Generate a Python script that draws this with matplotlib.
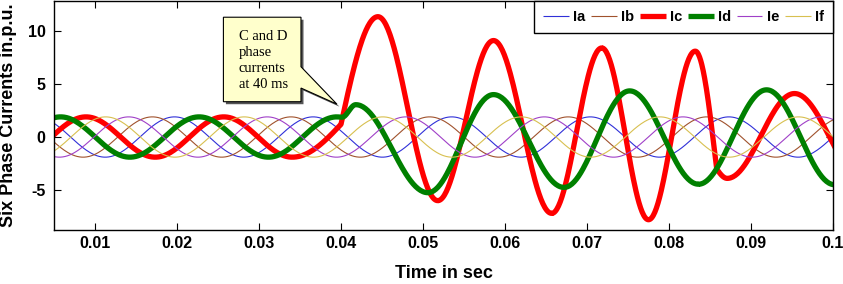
import numpy as np
import matplotlib
matplotlib.use("Agg")
import matplotlib.pyplot as plt
from matplotlib.patches import Polygon
import matplotlib.transforms as mtransforms

# ---------------- data (turning points) ----------------
Ia_t = [0.0028, 0.01125, 0.0197, 0.02815, 0.0366, 0.04505, 0.0535, 0.06195, 0.0704, 0.07885, 0.0873, 0.09575, 0.1042]
Ia_v = [1.9, -1.9, 1.9, -1.9, 1.9, -1.9, 1.9, -1.9, 1.9, -1.9, 1.9, -1.9, 1.9]

Ib_t = [0.0001, 0.00855, 0.0170, 0.02545, 0.0339, 0.04235, 0.0508, 0.05925, 0.0677, 0.07615, 0.0846, 0.09305, 0.1015]
Ib_v = [1.9, -1.9, 1.9, -1.9, 1.9, -1.9, 1.9, -1.9, 1.9, -1.9, 1.9, -1.9, 1.9]

Ic_t = [0.0005, 0.0089, 0.01735, 0.0257, 0.03405, 0.0400, 0.0445, 0.0518, 0.0586, 0.0657,
        0.0718, 0.0775, 0.0832, 0.0858, 0.0871, 0.0953, 0.1038]
Ic_v = [-1.9, 1.9, -1.9, 1.9, -1.9, 1.2, 11.35, -6.0, 9.1, -7.2,
        8.4, -7.8, 8.1, -3.0, -3.9, 4.1, -4.0]

Id_t = [-0.00265, 0.0058, 0.01425, 0.0227, 0.03115, 0.0395, 0.0401, 0.0418, 0.0506, 0.0586,
        0.0672, 0.0752, 0.0836, 0.0919, 0.1002]
Id_v = [-1.9, 1.9, -1.9, 1.9, -1.9, 1.9, 1.86, 3.05, -5.25, 4.0,
        -4.75, 4.35, -4.45, 4.45, -4.5]

Ie_t = [-0.0028, 0.00565, 0.0141, 0.02255, 0.0310, 0.03945, 0.0479, 0.05635, 0.0648, 0.07325,
        0.0817, 0.09015, 0.0986, 0.10705]
Ie_v = [1.9, -1.9, 1.9, -1.9, 1.9, -1.9, 1.9, -1.9, 1.9, -1.9, 1.9, -1.9, 1.9, -1.9]

If_t = [0.00285, 0.0113, 0.01975, 0.0282, 0.03665, 0.0451, 0.05355, 0.0620, 0.07045, 0.0789,
        0.08735, 0.0958, 0.10425]
If_v = [-1.9, 1.9, -1.9, 1.9, -1.9, 1.9, -1.9, 1.9, -1.9, 1.9, -1.9, 1.9, -1.9]

labels = ["Ia", "Ib", "Ic", "Id", "Ie", "If"]
x_ticks = [0.01, 0.02, 0.03, 0.04, 0.05, 0.06, 0.07, 0.08, 0.09, 0.1]
x_ticklabels = ["0.01", "0.02", "0.03", "0.04", "0.05", "0.06", "0.07", "0.08", "0.09", "0.1"]
y_ticks = [-5, 0, 5, 10]
y_ticklabels = ["-5", "0", "5", "10"]


def arc_curve(ts, ys, n=60):
    """Smooth drawing through turning points (flat at extrema, kinks elsewhere)."""
    ts = np.asarray(ts, float)
    ys = np.asarray(ys, float)
    N = len(ts)

    def is_ext(i):
        if i == 0 or i == N - 1:
            return True
        return (ys[i] - ys[i - 1]) * (ys[i + 1] - ys[i]) < 0

    out_t, out_y = [], []
    s = np.linspace(0, 1, n)
    for i in range(N - 1):
        a, b = is_ext(i), is_ext(i + 1)
        if a and b:
            w = (1 - np.cos(np.pi * s)) / 2
        elif a and not b:
            w = 1 - np.cos(np.pi * s / 2)
        elif b and not a:
            w = np.sin(np.pi * s / 2)
        else:
            w = s
        out_t.append(ts[i] + (ts[i + 1] - ts[i]) * s)
        out_y.append(ys[i] + (ys[i + 1] - ys[i]) * w)
    return np.concatenate(out_t), np.concatenate(out_y)


plt.rcParams['font.family'] = ['Liberation Sans', 'DejaVu Sans']

fig = plt.figure(figsize=(8.43, 2.84), dpi=100)
ax = fig.add_axes([54 / 843, 1 - 230 / 284, (833 - 54) / 843, (230 - 1) / 284])

series = [
    (Ia_t, Ia_v, "#3030d8", 0.8),
    (Ib_t, Ib_v, "#a0522d", 0.8),
    (Ic_t, Ic_v, "#ff0000", 3.8),
    (Id_t, Id_v, "#008000", 3.8),
    (Ie_t, Ie_v, "#a040c8", 0.8),
    (If_t, If_v, "#d8c050", 0.8),
]
for (t, v, c, lw), lab in zip(series, labels):
    xt, yv = arc_curve(t, v)
    ax.plot(xt, yv, color=c, lw=lw, label=lab, solid_capstyle='butt')

ax.set_xlim(0.005, 0.1)
ax.set_ylim(-8.77, 12.83)
ax.set_xticks(x_ticks)
ax.set_xticklabels(x_ticklabels)
ax.set_yticks(y_ticks)
ax.set_yticklabels(y_ticklabels)
ax.tick_params(direction='in', top=True, right=True, length=5, width=0.8,
               labelsize=11.5, colors='black')
ax.tick_params(axis='x', pad=4.5)
ax.tick_params(axis='y', pad=6)
for lbl in ax.get_xticklabels() + ax.get_yticklabels():
    lbl.set_fontweight('bold')
for sp in ax.spines.values():
    sp.set_linewidth(1.0)
    sp.set_color('black')

ax.set_xlabel("Time in sec", fontsize=13, fontweight='bold', labelpad=10)
ax.set_ylabel("Six Phase Currents in.p.u.", fontsize=13, fontweight='bold', labelpad=8)

leg = ax.legend(loc='upper right', ncol=6, frameon=True, fancybox=False,
                edgecolor='black', framealpha=1, borderaxespad=0,
                handlelength=1.75, handletextpad=0.3, columnspacing=0.4,
                borderpad=0.62, prop={'weight': 'bold', 'size': 10.5})
leg.get_frame().set_linewidth(1.0)

# ---------------- callout ----------------
callout = [(0.02566, 11.3), (0.03512, 11.3), (0.03512, 6.63), (0.0395, 3.1),
           (0.03512, 4.62), (0.03512, 3.33), (0.02566, 3.33)]
shadow_tr = mtransforms.offset_copy(ax.transData, fig=fig, x=2.5, y=-2.5, units='dots')
ax.add_patch(Polygon(callout, closed=True, facecolor='#555555', edgecolor='none',
                     transform=shadow_tr, zorder=8))
ax.add_patch(Polygon(callout, closed=True, facecolor='#ffffcc', edgecolor='black',
                     lw=0.8, zorder=9))
ax.text(0.02753, 10.1, "C and D\nphase\ncurrents\nat 40 ms", family='Liberation Serif',
        fontsize=10.5, va='top', ha='left', linespacing=1.3, zorder=10)

fig.savefig("out.png", dpi=100)
